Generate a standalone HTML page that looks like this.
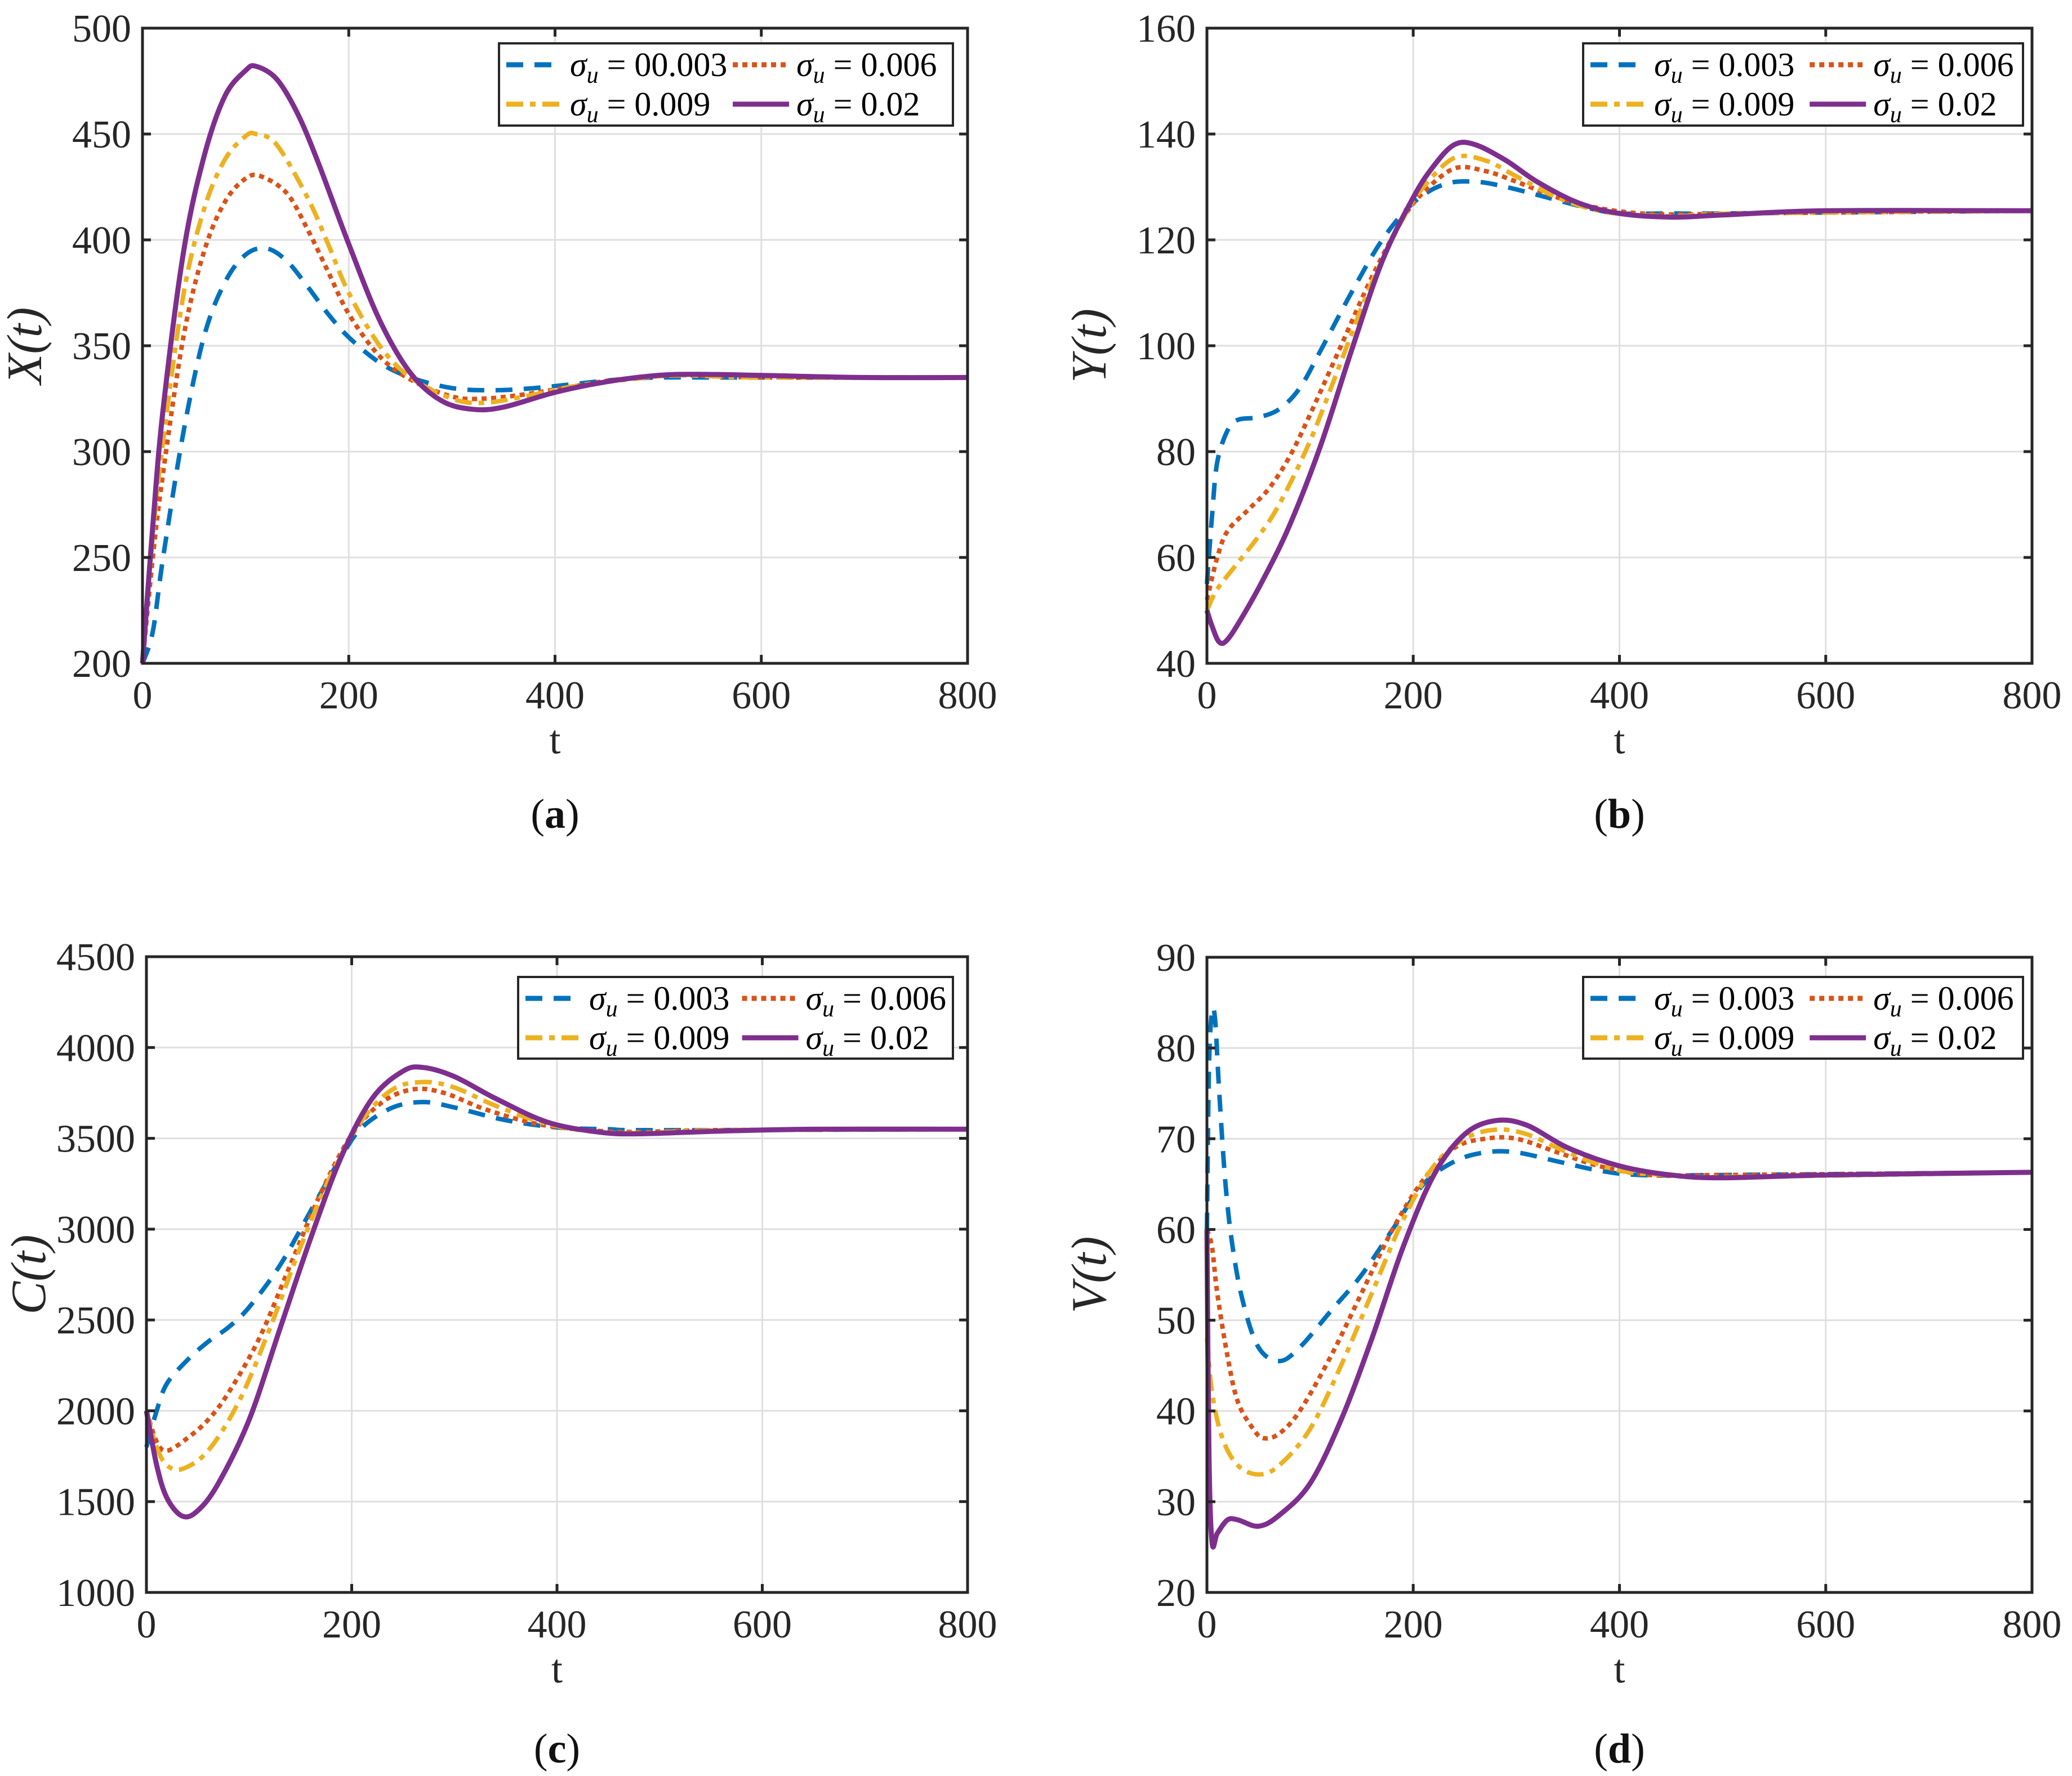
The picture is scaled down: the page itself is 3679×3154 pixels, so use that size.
<!DOCTYPE html>
<html><head><meta charset="utf-8"><style>
html,body{margin:0;padding:0;background:#fff;}
svg{display:block;font-family:"Liberation Serif",serif;}
</style></head><body>
<svg id="fig" width="3679" height="3154" viewBox="0 0 3679 3154" xmlns="http://www.w3.org/2000/svg"></svg>
<script>
const xTicks=[0,200,400,600,800];
const aTicks=[200,250,300,350,400,450,500];
const bTicks=[40,60,80,100,120,140,160];
const cTicks=[1000,1500,2000,2500,3000,3500,4000,4500];
const dTicks=[20,30,40,50,60,70,80,90];
const seriesLabels=["0.003","0.006","0.009","0.02"];
const aLabels=["00.003","0.006","0.009","0.02"];

const aBlueT=[0,10,20,40,60,80,100,120,140,160,180,200,230,260,300,340,380,420,460,500,550,600,700,800];
const aBlueV=[200,215,250,310,355,380,393,396,390,378,365,354,342,335,330,329,330,332,334,335,335,335,335,335];
const aRedT=[0,10,20,40,60,80,100,115,140,160,180,200,230,260,300,330,370,420,460,520,600,800];
const aRedV=[200,250,290,355,395,418,429,430,422,405,385,365,345,334,326,325,327,331,334,336,335,335];
const aYelT=[0,10,20,40,60,80,100,110,130,160,180,200,230,260,300,330,370,420,470,520,600,800];
const aYelV=[200,260,305,375,415,438,449,450,445,420,398,375,350,335,325,323,326,331,334,336,335,335];
const aPurT=[0,10,20,40,60,80,100,110,130,150,170,200,230,260,290,320,350,400,450,500,540,600,700,800];
const aPurV=[200,265,320,395,440,468,480,482,476,460,437,398,362,337,324,320,321,328,333,336,336.5,336,335,335];

const bBlueT=[0,5,10,20,30,50,70,90,110,140,170,200,230,260,290,330,370,400,450,500,800];
const bBlueV=[55,68,78,84,86,86.5,88,92,99,110,120,127,130.5,131,130,128,126,125,125,125,125.5];
const bRedT=[0,10,20,40,60,80,100,130,160,190,210,240,270,300,340,380,420,460,520,800];
const bRedV=[52,60,65,69,73,79,87,100,113,124,129,133.5,133,131,128,126,125,124.8,125,125.5];
const bYelT=[0,10,30,50,70,100,130,160,190,210,240,270,300,340,380,420,460,520,800];
const bYelV=[50,54,59,64,70,82,97,112,124,130,135.5,135,132,128,125.5,124.7,124.5,125,125.5];
const bPurT=[0,5,12,20,35,55,80,110,140,170,200,220,240,260,290,320,360,400,450,500,600,800];
const bPurV=[50,47,44,44.5,49,56,66,81,99,116,128,134,138,138,135,131,127,125,124.3,124.7,125.5,125.5];

const cBlueT=[0,10,20,40,60,80,100,130,160,190,210,240,270,300,350,400,450,500,800];
const cBlueV=[1800,2000,2150,2280,2380,2460,2570,2800,3100,3400,3560,3670,3700,3670,3600,3560,3550,3545,3550];
const cRedT=[0,10,20,40,60,80,110,140,170,200,230,260,290,330,380,430,480,550,800];
const cRedV=[2000,1830,1780,1850,1950,2100,2400,2800,3200,3520,3700,3770,3750,3660,3580,3545,3535,3545,3550];
const cYelT=[0,10,20,35,60,90,120,150,180,210,240,270,300,340,390,440,490,560,800];
const cYelV=[2000,1800,1700,1680,1780,2050,2450,2900,3300,3600,3770,3810,3780,3680,3580,3535,3530,3545,3550];
const cPurT=[0,10,20,35,50,70,100,130,160,190,220,250,270,300,340,390,440,480,560,650,800];
const cPurV=[2000,1700,1520,1420,1450,1600,1950,2450,2950,3400,3720,3870,3890,3840,3720,3590,3535,3525,3540,3550,3550];

const dBlueT=[0,2,5,8,12,18,25,35,50,70,90,120,150,180,210,240,270,300,340,380,420,500,800];
const dBlueV=[60,78,84,83,75,65,58,52,47,45.5,47,51,55,60,65,67.5,68.5,68.5,67.5,66.5,66,66,66.3];
const dRedT=[0,5,10,20,30,45,55,70,90,120,150,180,210,240,270,300,340,380,430,500,800];
const dRedV=[60,58,53,46,41,38,37,37.5,40,46,53,60,65.5,69,70,70,68.5,67,66,66,66.3];
const dYelT=[0,5,15,30,50,70,100,130,160,190,220,250,280,310,350,400,450,500,800];
const dYelV=[48,42,37,34,33,34,38,45,53,61,67,70,71,70.5,68.5,66.5,66,65.8,66.3];
const dPurT=[0,2,5,10,20,30,50,70,100,130,160,190,220,250,280,310,350,400,450,500,600,800];
const dPurV=[60,35,25.5,26.5,28,28,27.3,28.5,32,39,48,58,66,70.5,72,71.5,69,67,66,65.7,66,66.3];

const NS="http://www.w3.org/2000/svg";
const svg=document.getElementById('fig');
const colors=["#0072BD","#D95319","#EDB120","#7E2F8E"];
const dashes=["30 20","9 8","30 12 10 12",""];
function mk(tag,attrs,parent){const e=document.createElementNS(NS,tag);for(const k in attrs)e.setAttribute(k,attrs[k]);(parent||svg).appendChild(e);return e;}
function smooth(pts){
  let d="M"+pts[0][0].toFixed(1)+","+pts[0][1].toFixed(1);
  for(let i=0;i<pts.length-1;i++){
    const p0=pts[Math.max(0,i-1)],p1=pts[i],p2=pts[i+1],p3=pts[Math.min(pts.length-1,i+2)];
    const c1x=p1[0]+(p2[0]-p0[0])/6,c1y=p1[1]+(p2[1]-p0[1])/6;
    const c2x=p2[0]-(p3[0]-p1[0])/6,c2y=p2[1]-(p3[1]-p1[1])/6;
    d+=" C"+c1x.toFixed(1)+","+c1y.toFixed(1)+" "+c2x.toFixed(1)+","+c2y.toFixed(1)+" "+p2[0].toFixed(1)+","+p2[1].toFixed(1);
  }
  return d;
}
function panel(cfg){
  const g=mk('g',{});
  
  
  const {L,R,T,B,ymin,ymax,yTicks}=cfg;
  const sx=v=>L+(v-0)/(800-0)*(R-L);
  const sy=v=>B-(v-ymin)/(ymax-ymin)*(B-T);
  xTicks.forEach(v=>{const l=mk('line',{x1:sx(v),x2:sx(v),y1:T,y2:B,stroke:"#dfdfdf","stroke-width":3},g);
    });
  yTicks.forEach(v=>{const l=mk('line',{x1:L,x2:R,y1:sy(v),y2:sy(v),stroke:"#dfdfdf","stroke-width":3},g);
    });
  cfg.series.forEach((s,i)=>{
    const pts=s[0].map((t,j)=>[sx(t),sy(s[1][j])]);
    const p=mk('path',{d:smooth(pts),fill:"none",stroke:colors[i],"stroke-width":i==3?9:8,"stroke-dasharray":dashes[i],"stroke-linejoin":"round"},g);
    
    
  });
  const box=mk('rect',{x:L,y:T,width:R-L,height:B-T,fill:"none",stroke:"#262626","stroke-width":5},g);
  
  xTicks.forEach(v=>{
    mk('line',{x1:sx(v),x2:sx(v),y1:B,y2:B-15,stroke:"#262626","stroke-width":5},g);
    mk('line',{x1:sx(v),x2:sx(v),y1:T,y2:T+15,stroke:"#262626","stroke-width":5},g);
    const t=mk('text',{x:sx(v),y:B+80,"text-anchor":"middle","font-size":70,fill:"#262626"},g);
    t.textContent=v;
  });
  yTicks.forEach(v=>{
    mk('line',{x1:L,x2:L+15,y1:sy(v),y2:sy(v),stroke:"#262626","stroke-width":5},g);
    mk('line',{x1:R,x2:R-15,y1:sy(v),y2:sy(v),stroke:"#262626","stroke-width":5},g);
    const t=mk('text',{x:L-20,y:sy(v)+24,"text-anchor":"end","font-size":70,fill:"#262626"},g);
    t.textContent=v;
  });
  const xl=mk('text',{x:(L+R)/2,y:B+160,"text-anchor":"middle","font-size":72,fill:"#262626"},g);
  xl.textContent="t";
  const yl=mk('text',{x:0,y:0,"text-anchor":"middle","font-size":88,"font-style":"italic",fill:"#262626",transform:`translate(${L-180},${(T+B)/2}) rotate(-90)`},g);
  yl.textContent=cfg.ylab+"(t)";
  const sub=mk('text',{x:(L+R)/2,y:cfg.subY,"text-anchor":"middle","font-size":74,fill:"#111"},g);
  sub.innerHTML='(<tspan font-weight="bold">'+cfg.sub+'</tspan>)';
  
  const lg=mk('g',{},g);
  
  const [lx1,ly1,lx2,ly2]=cfg.legend;
  mk('rect',{x:lx1,y:ly1,width:lx2-lx1,height:ly2-ly1,fill:"#fff",stroke:"#262626","stroke-width":4},lg);
  const W=lx2-lx1;
  cfg.labels.forEach((lab,i)=>{
    const cx=lx1+(i%2? W*0.515 : 13), cy=ly1+(i<2?38:108);
    const e=mk('g',{},lg);
    
    
    mk('line',{x1:cx,x2:cx+100,y1:cy,y2:cy,stroke:colors[i],"stroke-width":9,"stroke-dasharray":dashes[i]},e);
    const t=mk('text',{x:cx+113,y:cy+20,"font-size":60,fill:"#000"},e);
    t.innerHTML='<tspan font-style="italic">σ</tspan><tspan font-style="italic" font-size="42" dy="12">u</tspan><tspan dy="-12"> = '+lab+'</tspan>';
  });
}
panel({name:'panel-a',L:253,R:1718,T:50,B:1178,ymin:200,ymax:500,yTicks:aTicks,ylab:"X",sub:"a",subY:1470,
  legend:[886,77,1692,223],labels:aLabels,
  series:[[aBlueT,aBlueV],[aRedT,aRedV],[aYelT,aYelV],[aPurT,aPurV]]});
panel({name:'panel-b',L:2143,R:3608,T:50,B:1178,ymin:40,ymax:160,yTicks:bTicks,ylab:"Y",sub:"b",subY:1470,
  legend:[2811,77,3592,223],labels:seriesLabels,
  series:[[bBlueT,bBlueV],[bRedT,bRedV],[bYelT,bYelV],[bPurT,bPurV]]});
panel({name:'panel-c',L:260,R:1718,T:1699,B:2828,ymin:1000,ymax:4500,yTicks:cTicks,ylab:"C",sub:"c",subY:3130,
  legend:[920,1735,1692,1880],labels:seriesLabels,
  series:[[cBlueT,cBlueV],[cRedT,cRedV],[cYelT,cYelV],[cPurT,cPurV]]});
panel({name:'panel-d',L:2143,R:3608,T:1700,B:2828,ymin:20,ymax:90,yTicks:dTicks,ylab:"V",sub:"d",subY:3130,
  legend:[2811,1735,3592,1880],labels:seriesLabels,
  series:[[dBlueT,dBlueV],[dRedT,dRedV],[dYelT,dYelV],[dPurT,dPurV]]});
</script>
</body></html>
